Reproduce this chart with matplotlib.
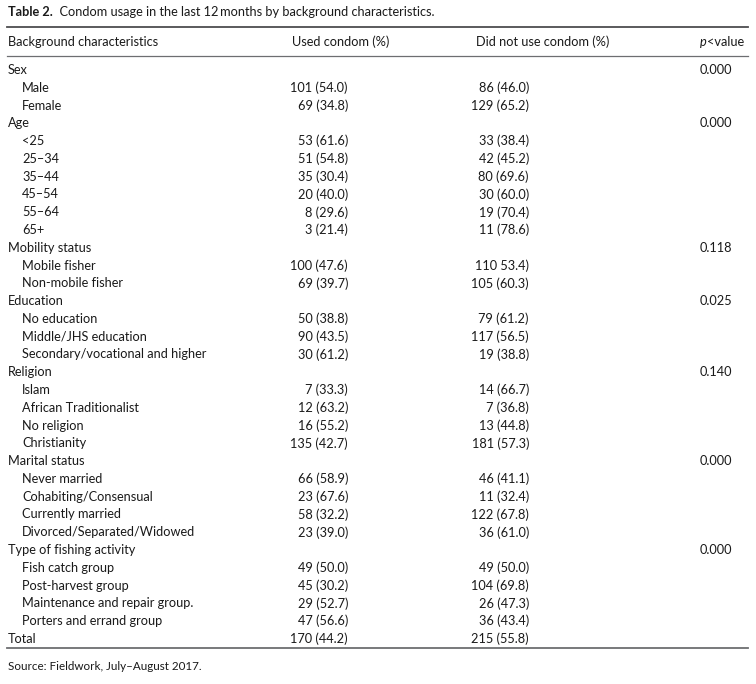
import matplotlib
matplotlib.use("Agg")
import matplotlib.pyplot as plt

# table contents
title_bold = "Table 2."
title_rest = "  Condom usage in the last 12\u2009months by background characteristics."
headers = ["Background characteristics", "Used condom (%)", "Did not use condom (%)", "p<value"]
source = "Source: Fieldwork, July\u2013August 2017."

groups = ["Sex", "Age", "Mobility status", "Education", "Religion", "Marital status", "Type of fishing activity"]
p_values = ["0.000", "0.000", "0.118", "0.025", "0.140", "0.000", "0.000"]

sex_rows = ["Male", "Female"]
sex_used = ["101 (54.0)", "69 (34.8)"]
sex_not = ["86 (46.0)", "129 (65.2)"]

age_rows = ["<25", "25\u201334", "35\u201344", "45\u201354", "55\u201364", "65+"]
age_used = ["53 (61.6)", "51 (54.8)", "35 (30.4)", "20 (40.0)", "8 (29.6)", "3 (21.4)"]
age_not = ["33 (38.4)", "42 (45.2)", "80 (69.6)", "30 (60.0)", "19 (70.4)", "11 (78.6)"]

mob_rows = ["Mobile fisher", "Non-mobile fisher"]
mob_used = ["100 (47.6)", "69 (39.7)"]
mob_not = ["110 53.4)", "105 (60.3)"]

edu_rows = ["No education", "Middle/JHS education", "Secondary/vocational and higher"]
edu_used = ["50 (38.8)", "90 (43.5)", "30 (61.2)"]
edu_not = ["79 (61.2)", "117 (56.5)", "19 (38.8)"]

rel_rows = ["Islam", "African Traditionalist", "No religion", "Christianity"]
rel_used = ["7 (33.3)", "12 (63.2)", "16 (55.2)", "135 (42.7)"]
rel_not = ["14 (66.7)", "7 (36.8)", "13 (44.8)", "181 (57.3)"]

mar_rows = ["Never married", "Cohabiting/Consensual", "Currently married", "Divorced/Separated/Widowed"]
mar_used = ["66 (58.9)", "23 (67.6)", "58 (32.2)", "23 (39.0)"]
mar_not = ["46 (41.1)", "11 (32.4)", "122 (67.8)", "36 (61.0)"]

fish_rows = ["Fish catch group", "Post-harvest group", "Maintenance and repair group.", "Porters and errand group"]
fish_used = ["49 (50.0)", "45 (30.2)", "29 (52.7)", "47 (56.6)"]
fish_not = ["49 (50.0)", "104 (69.8)", "26 (47.3)", "36 (43.4)"]

total_used = "170 (44.2)"
total_not = "215 (55.8)"

group_rows = [(sex_rows, sex_used, sex_not), (age_rows, age_used, age_not),
              (mob_rows, mob_used, mob_not), (edu_rows, edu_used, edu_not),
              (rel_rows, rel_used, rel_not), (mar_rows, mar_used, mar_not),
              (fish_rows, fish_used, fish_not)]

plt.rcParams['font.family'] = ['Lato', 'DejaVu Sans']
fs = 9.2
col = '#1a1a1a'
line_col = '#6d6e71'

fig = plt.figure(figsize=(7.56, 6.84), dpi=100)
ax = fig.add_axes([0, 0, 1, 1])
ax.set_xlim(0, 756)
ax.set_ylim(684, 0)
ax.axis('off')

x_left = 8
x_ind = 22
x_used = 348
x_not = 529
x_p = 700

# title
t = ax.text(x_left, 12, title_bold, fontsize=fs, fontweight='bold', color=col, va='center')
ax.annotate(title_rest, xy=(1, 0.5), xycoords=t, fontsize=fs, color=col, va='center', ha='left')

# rules
ax.plot([7, 748], [27, 27], color='#4d4d4f', lw=1.3)
ax.plot([7, 748], [56, 56], color=line_col, lw=0.9)
ax.plot([7, 748], [648, 648], color=line_col, lw=1.3)

# header
hy = 42
ax.text(x_left, hy, headers[0], fontsize=fs, color=col, va='center')
ax.text(292, hy, headers[1], fontsize=fs, color=col, va='center')
ax.text(476, hy, headers[2], fontsize=fs, color=col, va='center')
pt = ax.text(x_p, hy, "p", fontsize=fs, color=col, va='center', fontstyle='italic')
ax.annotate("<value", xy=(1, 0.5), xycoords=pt, fontsize=fs, color=col, va='center', ha='left')

y0 = 70
step = 17.78
i = 0
for g, p, (rows, used, notused) in zip(groups, p_values, group_rows):
    y = y0 + i * step
    ax.text(x_left, y, g, fontsize=fs, color=col, va='center')
    ax.text(x_p, y, p, fontsize=fs, color=col, va='center')
    i += 1
    for r, u, n in zip(rows, used, notused):
        y = y0 + i * step
        ax.text(x_ind, y, r, fontsize=fs, color=col, va='center')
        ax.text(x_used, y, u, fontsize=fs, color=col, va='center', ha='right')
        ax.text(x_not, y, n, fontsize=fs, color=col, va='center', ha='right')
        i += 1

y = y0 + i * step
ax.text(x_left, y, "Total", fontsize=fs, color=col, va='center')
ax.text(x_used, y, total_used, fontsize=fs, color=col, va='center', ha='right')
ax.text(x_not, y, total_not, fontsize=fs, color=col, va='center', ha='right')

ax.text(x_left, 667, source, fontsize=fs - 0.8, color=col, va='center')

fig.savefig("out.png", dpi=100)
